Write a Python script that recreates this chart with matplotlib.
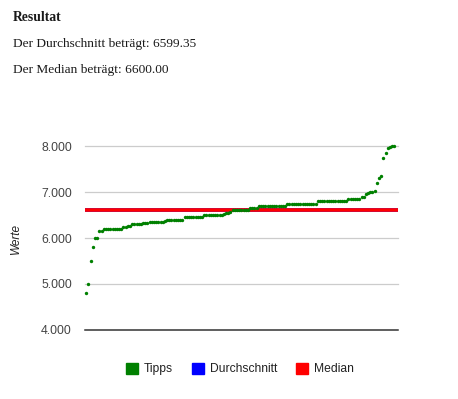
import numpy as np
import matplotlib
matplotlib.use("Agg")
from matplotlib import pyplot as plt
from matplotlib.patches import Patch

# sorted tips
tipps = ([4800, 5000, 5500, 5800]
         + [6000] * 2 + [6150] * 2 + [6200] * 9 + [6250] * 2 + [6270] * 2
         + [6300] * 5 + [6320] * 3 + [6350] * 7 + [6380] + [6400] * 8
         + [6450] * 9 + [6500] * 9 + [6520, 6540, 6550, 6560]
         + [6600] * 8 + [6650] * 4 + [6700] * 13 + [6750] * 14 + [6800] * 14
         + [6850] * 6 + [6900] * 2 + [6950, 6980, 7000, 7000]
         + [7030, 7200, 7300, 7350, 7750, 7850, 7950, 7970, 8000, 8000])
durchschnitt = 6599.35
median = 6600.00
yticks = [4000, 5000, 6000, 7000, 8000]
legend_labels = ["Tipps", "Durchschnitt", "Median"]

W, H = 458, 399
fig = plt.figure(figsize=(W / 100, H / 100), dpi=100)

serif = ["Liberation Serif", "DejaVu Serif"]
fig.text(13 / W, 1 - 21.3 / H, "Resultat", family=serif, fontsize=9.8,
         fontweight="bold", color="#1a1a1a", va="baseline")
fig.text(13 / W, 1 - 47.3 / H, f"Der Durchschnitt beträgt: {durchschnitt:.2f}",
         family=serif, fontsize=9.6, color="#1a1a1a", va="baseline")
fig.text(13 / W, 1 - 72.7 / H, f"Der Median beträgt: {median:.2f}",
         family=serif, fontsize=9.6, color="#1a1a1a", va="baseline")

ax = fig.add_axes([85 / W, (H - 330) / H, (397.7 - 85) / W, (330 - 146) / H])

x = np.arange(len(tipps))
n = len(tipps) - 1
px = n / (394.3 - 86.3)
ax.set_xlim(-1.3 * px, n + 3.4 * px)
ax.set_ylim(4000, 8000)

for t in yticks[1:]:
    ax.axhline(t, color="#cccccc", lw=0.9, zorder=0, clip_on=False)
ax.axhline(yticks[0], color="#333333", lw=1.1, zorder=1, clip_on=False)

ax.axhline(durchschnitt, color="#0000ff", lw=2.6, zorder=2)
ax.axhline(median, color="#ff0000", lw=2.6, zorder=3)
ax.scatter(x, tipps, s=6, color="#008000", linewidths=0, zorder=4, clip_on=False)

for s in ax.spines.values():
    s.set_visible(False)
ax.set_xticks([])
ax.set_yticks(yticks)
ax.set_yticklabels([f"{t // 1000}.{t % 1000:03d}" for t in yticks],
                   family="Liberation Sans", fontsize=8.8, color="#444444")
ax.tick_params(axis="y", length=0, pad=9.5)
ax.set_ylabel("Werte", family="Liberation Sans", fontsize=8.5, style="italic",
              color="#222222")
ax.yaxis.set_label_coords(-0.20, 0.5)

handles = [Patch(color=c) for c in ["#008000", "#0000ff", "#ff0000"]]
fig.legend(handles, legend_labels, loc="center", bbox_to_anchor=(240 / W, 1 - 369 / H),
           ncol=3, frameon=False, handlelength=1.0, handleheight=1.0,
           handletextpad=0.45, columnspacing=1.6,
           prop={"family": "Liberation Sans", "size": 8.7}, labelcolor="#222222")

fig.savefig("out.png", dpi=100)
